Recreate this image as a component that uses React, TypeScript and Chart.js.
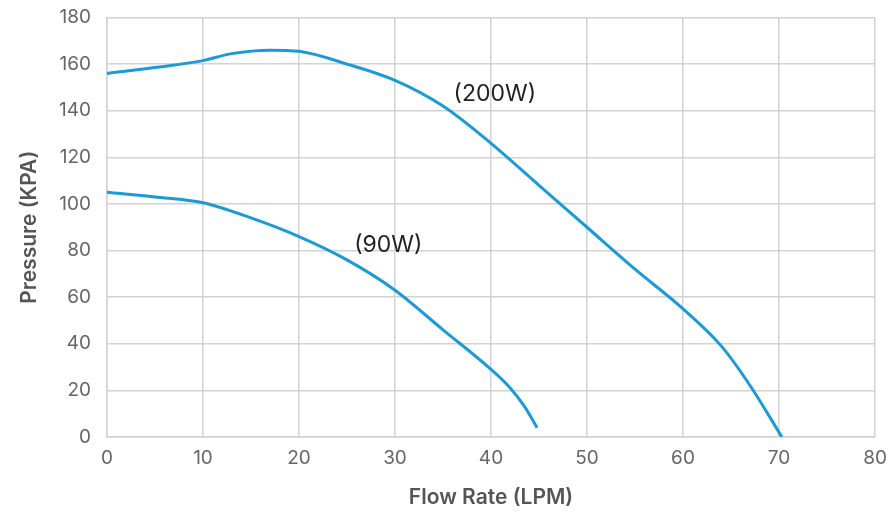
import React, { useEffect, useRef } from "react";
import { Chart, registerables } from "chart.js";

Chart.register(...registerables);

const flow200 = [0, 5, 10, 13, 17, 20, 25, 30, 35, 40, 45, 50, 55, 60, 64, 67, 70.3];
const press200 = [156, 158.5, 161.5, 164.5, 166, 165.5, 160, 153, 142, 126, 108, 90, 72, 55, 39, 22, 0];
const flow90 = [0, 5, 10, 15, 20, 25, 30, 35, 40, 42, 43.5, 44.8];
const press90 = [105, 103, 100.5, 94, 86, 76, 63, 46, 29, 21, 13, 4];
const seriesLabels = ["(200W)", "(90W)"];
const labelPositions = [
  { x: 40.4, y: 147 },
  { x: 29.3, y: 82.5 },
];

const FONT = "Inter, 'Noto Sans', sans-serif";

const labelPlugin = {
  id: "curveLabels",
  afterDatasetsDraw(chart: any) {
    const { ctx, scales } = chart;
    ctx.save();
    ctx.font = `23px ${FONT}`;
    ctx.fillStyle = "#222";
    ctx.textAlign = "center";
    ctx.textBaseline = "middle";
    seriesLabels.forEach((t, i) => {
      const p = labelPositions[i];
      ctx.fillText(t, scales.x.getPixelForValue(p.x), scales.y.getPixelForValue(p.y));
    });
    ctx.restore();
  },
};

export default function App() {
  const ref = useRef<HTMLCanvasElement>(null);
  useEffect(() => {
    document.body.style.margin = "0";
    const toPts = (xs: number[], ys: number[]) => xs.map((x, i) => ({ x, y: ys[i] }));
    const ds = (xs: number[], ys: number[]) => ({
      data: toPts(xs, ys),
      borderColor: "#1a9bd7",
      borderWidth: 3,
      pointRadius: 0,
      fill: false,
      tension: 0.4,
      cubicInterpolationMode: "monotone" as const,
    });
    const chart = new Chart(ref.current!, {
      type: "line",
      data: { datasets: [ds(flow200, press200), ds(flow90, press90)] as any },
      options: {
        animation: false,
        responsive: false,
        maintainAspectRatio: false,
        layout: { padding: { top: 17.5, right: 14, left: 0, bottom: 0 } },
        plugins: { legend: { display: false }, tooltip: { enabled: false } },
        scales: {
          x: {
            type: "linear",
            min: 0,
            max: 80,
            ticks: { stepSize: 10, color: "#666", font: { family: FONT, size: 19 }, padding: 10 },
            grid: { color: "#d2d2d2", lineWidth: 1.5, drawTicks: false },
            border: { color: "#d2d2d2", width: 1.5 },
            title: {
              display: true,
              text: "Flow Rate (LPM)",
              color: "#555",
              font: { family: FONT, size: 21, weight: "600" as any },
              padding: { top: 0, bottom: 5 },
            },
            afterFit: (s: any) => {
              s.height = 78;
              s.paddingLeft = 0;
              s.paddingRight = 0;
            },
          },
          y: {
            min: 0,
            max: 180,
            ticks: { stepSize: 20, color: "#666", font: { family: FONT, size: 19 }, padding: 16 },
            grid: { color: "#d2d2d2", lineWidth: 1.5, drawTicks: false },
            border: { color: "#d2d2d2", width: 1.5 },
            title: {
              display: true,
              text: "Pressure (KPA)",
              color: "#555",
              font: { family: FONT, size: 21, weight: "600" as any },
              padding: { top: 17, bottom: 0 },
            },
            afterFit: (s: any) => {
              s.width = 107;
              s.paddingTop = 0;
              s.paddingBottom = 0;
            },
          },
        },
      },
      plugins: [labelPlugin],
    });
    return () => chart.destroy();
  }, []);
  return (
    <div style={{ width: 889, height: 515, background: "#fff" }}>
      <canvas ref={ref} width={889} height={515} style={{ width: 889, height: 515, display: "block" }} />
    </div>
  );
}
